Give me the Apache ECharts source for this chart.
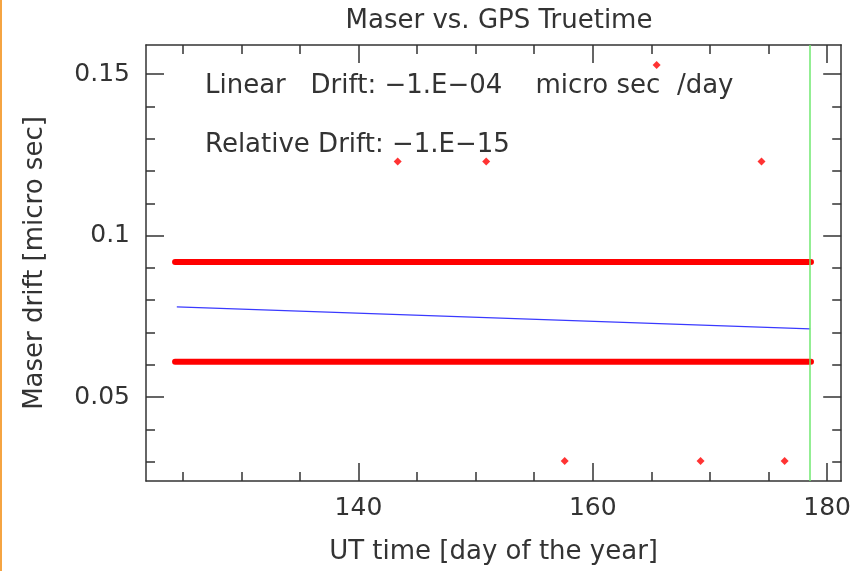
<!DOCTYPE html>
<html>
<head>
<meta charset="utf-8">
<script src="https://cdn.jsdelivr.net/npm/echarts@6/dist/echarts.min.js"></script>
<style>
  html, body { margin: 0; padding: 0; background: #fff; }
  #chart { width: 854px; height: 571px; }
</style>
</head>
<body>
<div id="chart"></div>
<script>
// axis ranges and ticks (day of year / micro sec)
const xRange = [121.87, 181.2]
const yRange = [0.024, 0.159]
const xMajorTicks = [140, 160, 180]
const xMinorTicks = [125, 130, 135, 140, 145, 150, 155, 160, 165, 170, 175, 180]
const yMajorTicks = [0.05, 0.1, 0.15]
const yMinorTicks = [0.03, 0.04, 0.05, 0.06, 0.07, 0.08, 0.09, 0.1, 0.11, 0.12, 0.13, 0.14, 0.15]

// dense measurement bands (start/end of each run)
const upperBand = [[124.35, 0.0918], [178.62, 0.0918]]
const lowerBand = [[124.35, 0.0609], [178.62, 0.0609]]
// isolated outliers
const outliers = [
  [143.35, 0.1229], [150.9, 0.1229], [165.45, 0.1528], [174.4, 0.1229],
  [157.6, 0.0302], [169.2, 0.0302], [176.37, 0.0302]
]
// linear fit
const fitLine = [[124.5, 0.0779], [178.55, 0.0711]]
const endDay = 178.55

const axisColor = '#333'
const textColor = '#333'
const font = 'DejaVu Sans'

const chart = echarts.init(document.getElementById('chart'))

const xAxisBase = (pos, major, withLabel) => ({
  type: 'value',
  position: pos,
  min: xRange[0],
  max: xRange[1],
  axisLine: { show: major, onZero: false, lineStyle: { color: axisColor, width: 1.5 } },
  axisTick: {
    show: true, inside: true, length: major ? 18 : 9,
    customValues: major ? xMajorTicks : xMinorTicks,
    lineStyle: { color: axisColor, width: 1.5 }
  },
  axisLabel: withLabel ? {
    show: true, customValues: xMajorTicks, margin: 15,
    color: textColor, fontSize: 25, fontFamily: font
  } : { show: false },
  splitLine: { show: false }
})

const yAxisBase = (pos, major, withLabel) => ({
  type: 'value',
  position: pos,
  min: yRange[0],
  max: yRange[1],
  axisLine: { show: major, onZero: false, lineStyle: { color: axisColor, width: 1.5 } },
  axisTick: {
    show: true, inside: true, length: major ? 18 : 9,
    customValues: major ? yMajorTicks : yMinorTicks,
    lineStyle: { color: axisColor, width: 1.5 }
  },
  axisLabel: withLabel ? {
    show: true, customValues: yMajorTicks, margin: 16,
    color: textColor, fontSize: 25, fontFamily: font,
    formatter: v => String(+v.toFixed(2))
  } : { show: false },
  splitLine: { show: false }
})

const xBottom = Object.assign(xAxisBase('bottom', true, true), {
  name: 'UT time [day of the year]',
  nameLocation: 'middle',
  nameGap: 58,
  nameTextStyle: { color: textColor, fontSize: 26, fontFamily: font }
})
const yLeft = Object.assign(yAxisBase('left', true, true), {
  name: 'Maser drift [micro sec]',
  nameLocation: 'middle',
  nameGap: 98,
  nameTextStyle: { color: textColor, fontSize: 26, fontFamily: font }
})

const option = {
  animation: false,
  backgroundColor: '#fff',
  title: {
    text: 'Maser vs. GPS Truetime',
    left: 494, top: 3, textAlign: 'center',
    textStyle: { color: textColor, fontSize: 26, fontWeight: 'normal', fontFamily: font }
  },
  grid: { left: 146, top: 45, width: 697, height: 436 },
  xAxis: [
    xBottom,
    xAxisBase('bottom', false, false),
    xAxisBase('top', true, false),
    xAxisBase('top', false, false)
  ],
  yAxis: [
    yLeft,
    yAxisBase('left', false, false),
    yAxisBase('right', true, false),
    yAxisBase('right', false, false)
  ],
  graphic: [
    { type: 'rect', shape: { x: 0, y: 0, width: 2, height: 571 }, style: { fill: '#f5a442' } },
    {
      type: 'text', left: 205, top: 73,
      style: { text: 'Linear   Drift: \u22121.E\u221204    micro sec  /day', fill: textColor, font: '26px "DejaVu Sans"' }
    },
    {
      type: 'text', left: 205, top: 132,
      style: { text: 'Relative Drift: \u22121.E\u221215', fill: textColor, font: '26px "DejaVu Sans"' }
    }
  ],
  series: [
    {
      type: 'line', data: upperBand, symbol: 'none',
      lineStyle: { color: '#ff0000', width: 6, cap: 'round' }
    },
    {
      type: 'line', data: lowerBand, symbol: 'none',
      lineStyle: { color: '#ff0000', width: 6, cap: 'round' }
    },
    {
      type: 'line', data: fitLine, symbol: 'none',
      lineStyle: { color: '#3a3aff', width: 1.2 },
      markLine: {
        silent: true, symbol: 'none', label: { show: false },
        lineStyle: { color: '#6fe86f', width: 1.5, type: 'solid' },
        data: [{ xAxis: endDay }]
      }
    },
    {
      type: 'scatter', data: outliers, symbol: 'diamond', symbolSize: 8,
      itemStyle: { color: '#ff0000' }
    }
  ]
}

chart.setOption(option)
</script>
</body>
</html>
